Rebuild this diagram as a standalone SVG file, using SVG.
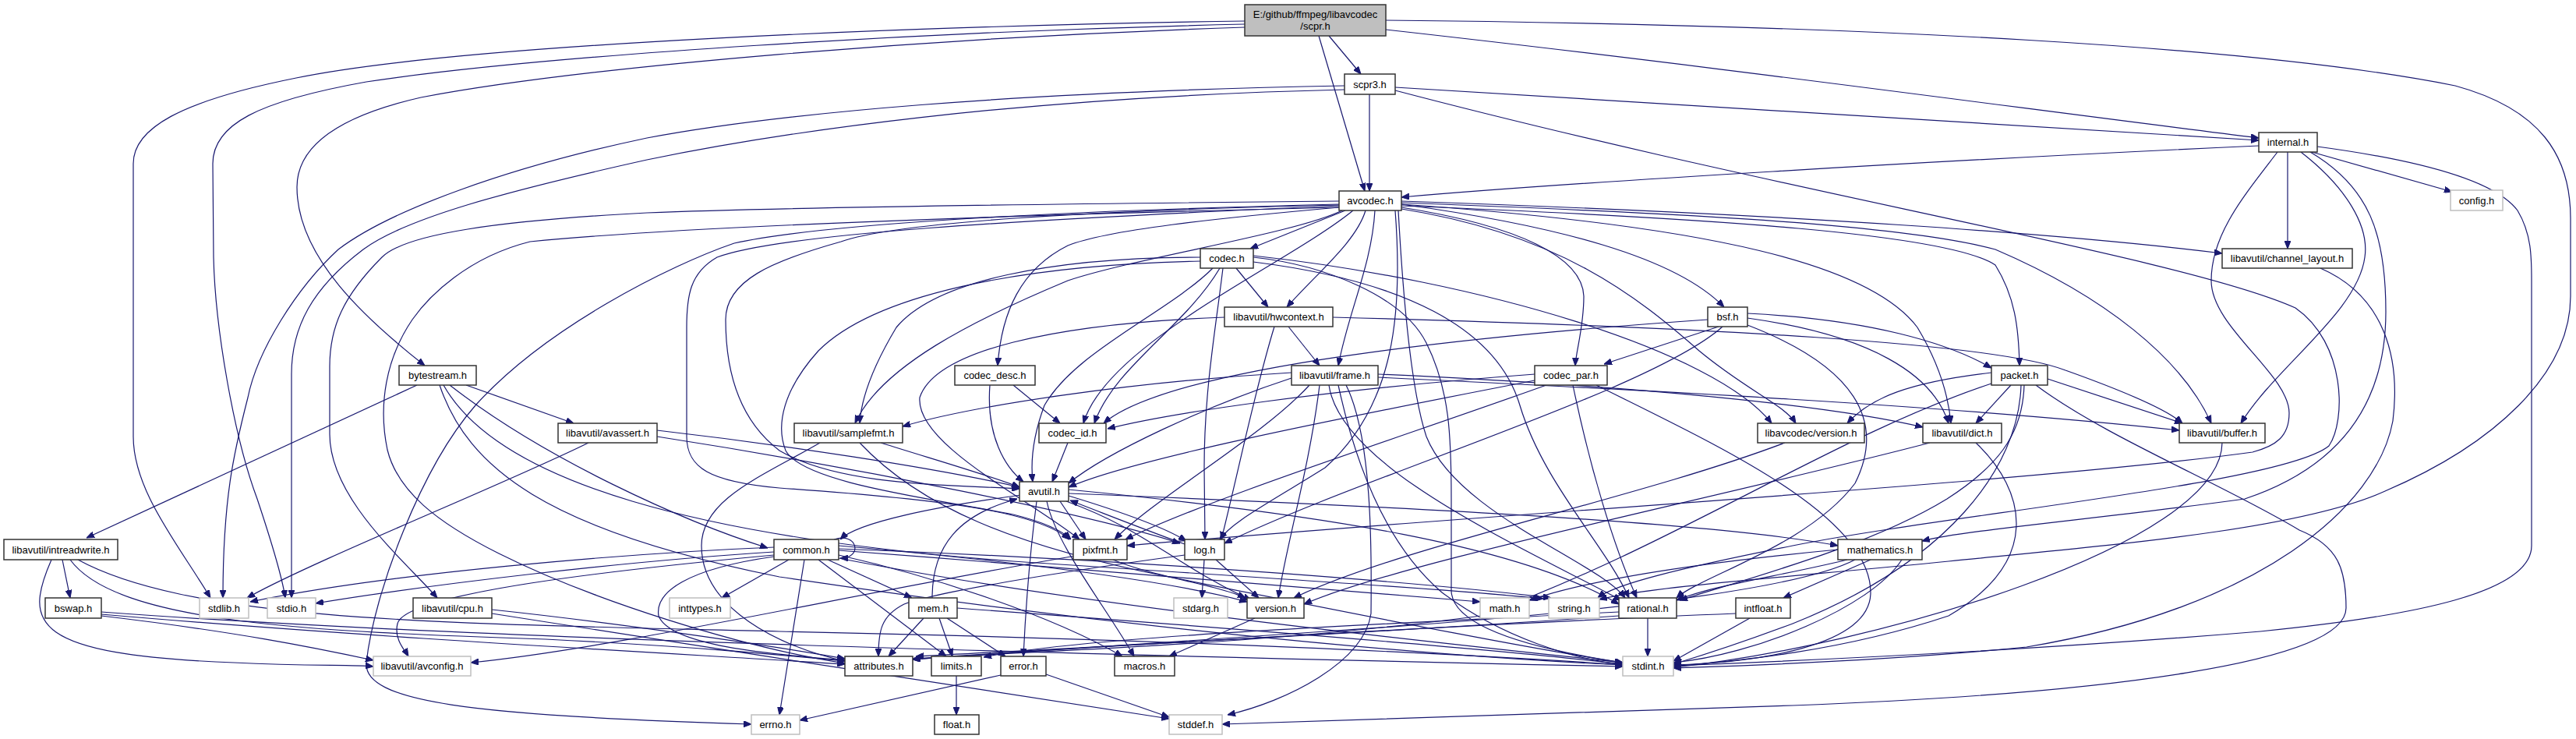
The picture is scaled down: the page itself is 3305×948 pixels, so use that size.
<svg xmlns="http://www.w3.org/2000/svg" width="3305" height="948" viewBox="0 0 3305 948">
<style>
.e{fill:none;stroke:#191970;stroke-width:1.2;marker-end:url(#ah)}
.n rect{fill:#fff;stroke:#333;stroke-width:1.5}
.g rect{fill:#fff;stroke:#bfbfbf;stroke-width:1.5}
text{font-family:"Liberation Sans",Arial,sans-serif;font-size:13px;text-anchor:middle;fill:#000}
</style>
<defs>
<marker id="ah" markerUnits="userSpaceOnUse" markerWidth="10" markerHeight="8" viewBox="0 0 10 8" refX="10" refY="4" orient="auto"><path d="M0,0L10,4L0,8z" fill="#191970" stroke="#191970"/></marker>
</defs>
<rect width="3305" height="948" fill="#fff"/>
<g id="edges">
<path class="e" d="M1597,27 C1200,33 600,55 380,100 C230,130 171,165 171,210 L171,560 C171,630 230,700 270,767"/>
<path class="e" d="M1597,31 C1200,40 700,70 470,105 C330,130 273,160 273,210 L274,330 C276,420 300,560 330,640 C350,700 362,740 366,767"/>
<path class="e" d="M1597,35 C1200,48 750,85 540,125 C430,150 381,190 381,240 C381,330 470,410 545,469"/>
<path class="e" d="M1705,46 L1746,95"/>
<path class="e" d="M1692,46 L1751,245"/>
<path class="e" d="M1778,38 C2200,85 2600,140 2898,177"/>
<path class="e" d="M1778,26 C2400,32 2900,60 3150,110 C3260,140 3298,200 3298,280 L3298,380 C3298,480 3200,570 3060,630 C2950,680 2700,700 2500,720 C2300,740 2120,752 2052,769"/>
<path class="e" d="M1757,121 L1757,245"/>
<path class="e" d="M1790,112 C2200,135 2600,165 2898,180"/>
<path class="e" d="M1725,110 C1300,118 1000,145 830,177 C650,215 500,270 434,320 C380,370 330,450 318,510 C300,580 286,640 286,767"/>
<path class="e" d="M1725,115 C1300,125 1000,170 830,205 C650,245 520,280 466,320 C400,370 374,420 374,480 L374,767"/>
<path class="e" d="M1790,116 C2300,250 2800,330 2945,395 C3010,440 3010,540 2988,572 C2930,620 2500,660 2300,700 C2150,730 2070,750 2050,767"/>
<path class="e" d="M2898,187 C2500,205 2000,235 1798,253"/>
<path class="e" d="M2935,195 L2935,319"/>
<path class="e" d="M2966,195 L3146,246"/>
<path class="e" d="M2952,195 C3010,240 3040,290 3034,330 C3025,400 2920,470 2875,543"/>
<path class="e" d="M2964,195 C3040,240 3061,300 3061,400 C3061,520 3000,600 2880,640 C2700,665 2520,680 2466,694"/>
<path class="e" d="M2922,195 C2880,250 2837,300 2837,360 C2837,420 2937,480 2937,530 C2937,560 2920,572 2890,580 C2600,620 1900,660 1446,700"/>
<path class="e" d="M2973,188 C3100,205 3200,230 3230,270 C3248,300 3248,330 3248,360 L3248,700 C3248,760 3100,790 2900,810 C2600,835 2300,848 2147,854"/>
<path class="e" d="M1718,262 C1300,272 1040,290 942,312 C860,340 700,420 610,520 C540,600 480,760 470,850 C466,900 600,918 964,929"/>
<path class="e" d="M1718,258 C1300,262 1000,266 830,273 C640,283 520,300 490,330 C440,380 423,420 423,470 L423,557 C423,640 520,720 561,767"/>
<path class="e" d="M1718,266 C1300,276 880,290 680,310 C600,330 550,380 529,410 C495,460 485,520 497,577 C510,630 560,670 640,710 C760,770 950,830 1084,851"/>
<path class="e" d="M1722,270 C1660,300 1460,330 1370,360 C1250,410 1130,470 1097,543"/>
<path class="e" d="M1718,263 C1400,270 1150,285 1079,310 C990,335 931,360 931,410 C931,480 950,540 1000,578 C1080,625 1230,622 1308,627"/>
<path class="e" d="M1718,264 C1300,282 1000,300 920,330 C885,350 881,380 881,420 L881,560 C881,600 910,618 1000,626 C1200,640 1330,655 1372,692"/>
<path class="e" d="M1790,270 C1800,400 1790,520 1700,600 C1620,650 1580,670 1565,692"/>
<path class="e" d="M1726,270 L1604,319"/>
<path class="e" d="M1718,266 C1560,280 1420,295 1370,315 C1310,345 1285,400 1280,469"/>
<path class="e" d="M1736,270 C1650,340 1420,440 1390,543"/>
<path class="e" d="M1752,270 C1740,310 1690,350 1651,394"/>
<path class="e" d="M1764,270 C1760,340 1730,400 1717,469"/>
<path class="e" d="M1794,270 C1800,380 1810,500 1830,560 C1870,660 2050,720 2085,767"/>
<path class="e" d="M1798,262 C2000,290 2150,330 2212,394"/>
<path class="e" d="M1798,266 C1950,290 2030,330 2032,380 C2032,420 2022,450 2021,469"/>
<path class="e" d="M1798,264 C2200,280 2500,300 2560,340 C2585,380 2590,420 2591,469"/>
<path class="e" d="M1798,268 C2000,300 2100,380 2180,450 C2240,500 2290,520 2304,543"/>
<path class="e" d="M1798,262 C2200,290 2400,340 2460,420 C2490,470 2500,510 2503,543"/>
<path class="e" d="M1798,260 C2200,275 2450,290 2560,320 C2700,380 2800,460 2837,543"/>
<path class="e" d="M1798,258 C2300,275 2650,300 2851,325"/>
<path class="e" d="M1608,330 C1700,340 1800,380 1830,440 C1860,500 1862,560 1862,640 L1862,757 C1862,800 1950,830 2082,850"/>
<path class="e" d="M1556,344 C1500,400 1380,450 1340,520 C1325,560 1322,590 1325,618"/>
<path class="e" d="M1586,344 L1627,394"/>
<path class="e" d="M1569,344 C1560,420 1545,500 1545,600 L1546,692"/>
<path class="e" d="M1540,335 C1300,340 1120,380 1050,450 C1005,500 995,545 1008,578 C1030,620 1200,640 1300,660 C1340,670 1362,680 1374,692"/>
<path class="e" d="M1608,336 C1800,360 1920,420 1950,520 C1980,620 2060,700 2090,767"/>
<path class="e" d="M1540,330 C1350,330 1200,360 1150,420 C1120,470 1105,510 1103,543"/>
<path class="e" d="M1565,344 C1520,420 1430,470 1404,543"/>
<path class="e" d="M1608,328 C1900,360 2200,450 2273,543"/>
<path class="e" d="M1270,494 C1265,560 1290,600 1313,618"/>
<path class="e" d="M1300,494 L1360,543"/>
<path class="e" d="M1370,568 L1350,618"/>
<path class="e" d="M2048,494 C2200,570 2400,660 2400,760 C2400,830 2250,850 2147,853"/>
<path class="e" d="M2018,494 C2040,600 2070,700 2100,767"/>
<path class="e" d="M1969,488 C1700,540 1450,590 1371,625"/>
<path class="e" d="M1984,494 C1800,560 1550,640 1444,692"/>
<path class="e" d="M1969,480 C1700,500 1500,530 1421,550"/>
<path class="e" d="M2242,408 C2400,430 2480,480 2500,543"/>
<path class="e" d="M2210,419 C2120,500 1750,610 1571,697"/>
<path class="e" d="M2242,417 C2380,470 2420,540 2380,620 C2320,700 2180,740 2151,767"/>
<path class="e" d="M2191,410 C1900,430 1500,470 1416,543"/>
<path class="e" d="M2205,419 L2058,467"/>
<path class="e" d="M2242,402 C2400,410 2500,440 2555,472"/>
<path class="e" d="M2612,494 C2700,560 2850,620 2950,680 C3000,700 3010,730 3010,780 C3010,850 2700,890 2300,905 C2000,915 1700,925 1568,929"/>
<path class="e" d="M2593,494 C2590,600 2500,720 2300,800 C2220,830 2170,845 2147,852"/>
<path class="e" d="M2555,492 C2350,560 2150,700 1900,790 C1600,830 1300,835 1171,846"/>
<path class="e" d="M2627,486 C2700,510 2760,530 2800,543"/>
<path class="e" d="M2580,494 L2535,543"/>
<path class="e" d="M2597,494 C2595,560 2560,600 2498,640 C2400,700 2250,740 2155,770"/>
<path class="e" d="M2555,478 C2450,490 2400,510 2370,543"/>
<path class="e" d="M2290,568 C2100,640 1800,700 1660,767"/>
<path class="e" d="M1710,407 C2200,420 2560,440 2650,475 C2720,500 2780,525 2800,543"/>
<path class="e" d="M1653,419 L1693,469"/>
<path class="e" d="M1635,419 C1610,500 1590,600 1567,692"/>
<path class="e" d="M1571,407 C1350,415 1200,450 1180,510 C1175,570 1320,640 1385,692"/>
<path class="e" d="M1727,494 C1760,560 1760,700 1759,787 C1750,850 1650,900 1575,917"/>
<path class="e" d="M1717,494 C1740,600 1780,700 1850,760 C1930,820 2020,845 2082,853"/>
<path class="e" d="M1657,485 C1550,520 1420,580 1371,620"/>
<path class="e" d="M1768,484 C2100,500 2500,520 2796,552"/>
<path class="e" d="M1768,480 C2100,495 2350,520 2467,548"/>
<path class="e" d="M1705,494 C1720,600 1950,700 2080,770"/>
<path class="e" d="M1657,478 C1450,490 1250,520 1158,547"/>
<path class="e" d="M1680,494 C1620,560 1480,640 1430,692"/>
<path class="e" d="M1693,494 C1680,600 1650,700 1640,767"/>
<path class="e" d="M1130,568 C1200,590 1270,610 1308,625"/>
<path class="e" d="M1052,568 C980,610 900,640 900,700 C900,780 1000,830 1084,848"/>
<path class="e" d="M1103,568 C1180,650 1300,700 1500,740 C1800,800 1980,835 2082,850"/>
<path class="e" d="M2535,568 C2600,630 2620,720 2500,790 C2350,840 2200,850 2147,855"/>
<path class="e" d="M2476,568 C2200,640 1800,720 1673,775"/>
<path class="e" d="M2851,568 C2850,700 2400,830 2147,856"/>
<path class="e" d="M2977,344 C3060,380 3080,460 3070,540 C3050,650 2900,780 2600,830 C2400,850 2200,855 2147,857"/>
<path class="e" d="M1310,635 C1200,650 1100,670 1078,692"/>
<path class="e" d="M1330,643 C1320,720 1315,800 1313,842"/>
<path class="e" d="M1371,628 C1700,660 1950,700 2077,775"/>
<path class="e" d="M1368,643 C1470,680 1500,720 1605,770"/>
<path class="e" d="M1343,643 C1355,700 1420,780 1455,842"/>
<path class="e" d="M1371,633 C1800,650 2200,670 2358,700"/>
<path class="e" d="M1371,636 C1450,660 1500,680 1522,694"/>
<path class="e" d="M1360,643 L1393,692"/>
<path class="e" d="M1032,718 L1000,917"/>
<path class="e" d="M1012,718 L926,767"/>
<path class="e" d="M1050,718 L1214,842"/>
<path class="e" d="M1062,718 L1170,767"/>
<path class="e" d="M993,702 C800,710 500,735 321,772"/>
<path class="e" d="M993,708 C800,720 550,750 405,774"/>
<path class="e" d="M993,712 C800,730 520,760 510,800 C505,820 520,835 524,842"/>
<path class="e" d="M993,714 C880,730 840,760 845,790 C860,830 1000,840 1084,847"/>
<path class="e" d="M1076,712 C1200,740 1350,790 1440,842"/>
<path class="e" d="M1076,700 C1300,720 1500,745 1600,772"/>
<path class="e" d="M1076,706 C1400,730 1750,760 1899,772"/>
<path class="e" d="M1076,704 C1500,720 1850,750 1990,767"/>
<path class="e" d="M1076,716 C1400,780 1900,830 2082,850"/>
<path class="e" d="M1070,692 C1100,682 1108,716 1078,716"/>
<path class="e" d="M1205,793 L1222,842"/>
<path class="e" d="M1228,780 C1500,800 1900,830 2082,852"/>
<path class="e" d="M1185,793 L1140,842"/>
<path class="e" d="M1215,793 L1290,842"/>
<path class="e" d="M1196,767 C1196,700 1230,660 1305,640"/>
<path class="e" d="M1284,866 L1026,924"/>
<path class="e" d="M1342,865 L1500,920"/>
<path class="e" d="M1227,867 L1227,917"/>
<path class="e" d="M1545,718 L1542,767"/>
<path class="e" d="M1520,698 C1470,680 1420,660 1373,642"/>
<path class="e" d="M1520,712 C1350,735 1200,760 1160,775 C1130,790 1127,810 1127,842"/>
<path class="e" d="M1560,718 L1615,767"/>
<path class="e" d="M1380,713 C1100,760 800,830 604,850"/>
<path class="e" d="M1428,718 C1480,740 1560,750 1598,767"/>
<path class="e" d="M1610,793 L1500,842"/>
<path class="e" d="M2114,793 L2114,842"/>
<path class="e" d="M2077,785 C1800,800 1400,815 1262,843"/>
<path class="e" d="M2077,790 C1800,810 1400,830 1175,842"/>
<path class="e" d="M2440,718 C2400,780 2250,840 2147,850"/>
<path class="e" d="M2358,705 C2200,720 2050,740 1962,770"/>
<path class="e" d="M2380,718 C2300,760 2000,790 1700,810 C1400,830 1250,840 1171,846"/>
<path class="e" d="M2370,718 C2280,740 2200,750 2151,770"/>
<path class="e" d="M2400,718 L2288,767"/>
<path class="e" d="M2245,793 L2147,848"/>
<path class="e" d="M2227,787 C1900,800 1400,830 1171,845"/>
<path class="e" d="M631,787 C900,830 1300,890 1500,922"/>
<path class="e" d="M631,782 C800,800 1000,830 1084,845"/>
<path class="e" d="M755,568 C650,620 400,720 317,767"/>
<path class="e" d="M843,552 C1000,570 1200,600 1308,625"/>
<path class="e" d="M843,560 C1100,600 1400,660 1514,697"/>
<path class="e" d="M535,494 L111,690"/>
<path class="e" d="M598,494 L736,543"/>
<path class="e" d="M577,494 C700,590 880,670 985,703"/>
<path class="e" d="M569,494 C640,620 900,690 1300,720 C1600,740 1850,755 1980,768"/>
<path class="e" d="M564,494 C600,600 700,680 1000,740 C1400,800 1800,840 2082,853"/>
<path class="e" d="M80,718 L90,767"/>
<path class="e" d="M66,718 C30,800 40,840 300,850 C400,855 450,852 479,855"/>
<path class="e" d="M90,718 C150,800 400,810 700,820 C900,830 1000,840 1084,848"/>
<path class="e" d="M100,718 C250,800 600,800 1000,810 C1500,820 1900,840 2082,853"/>
<path class="e" d="M130,785 C600,820 1400,840 2082,855"/>
<path class="e" d="M130,790 C300,810 400,830 479,847"/>
<path class="e" d="M130,788 C500,820 900,840 1084,852"/>
</g>
<g id="n_root"><rect x="1597" y="6" width="181" height="40" style="fill:#bfbfbf;stroke:#333;stroke-width:1.5"/><text x="1687.5" y="23">E:/github/ffmpeg/libavcodec</text><text x="1687.5" y="38">/scpr.h</text></g>
<g id="n_scpr3" class="n"><rect x="1725" y="95" width="65" height="26"/><text x="1757.5" y="112.5">scpr3.h</text></g>
<g id="n_internal" class="n"><rect x="2898" y="170" width="75" height="25"/><text x="2935.5" y="187">internal.h</text></g>
<g id="n_avcodec" class="n"><rect x="1718" y="245" width="80" height="25"/><text x="1758" y="262">avcodec.h</text></g>
<g id="n_config" class="g"><rect x="3144" y="244" width="67" height="26"/><text x="3177.5" y="261.5">config.h</text></g>
<g id="n_codec" class="n"><rect x="1540" y="319" width="68" height="25"/><text x="1574" y="336">codec.h</text></g>
<g id="n_channel_layout" class="n"><rect x="2851" y="319" width="167" height="25"/><text x="2934.5" y="336">libavutil/channel_layout.h</text></g>
<g id="n_hwcontext" class="n"><rect x="1571" y="394" width="139" height="25"/><text x="1640.5" y="411">libavutil/hwcontext.h</text></g>
<g id="n_bsf" class="n"><rect x="2191" y="394" width="51" height="25"/><text x="2216.5" y="411">bsf.h</text></g>
<g id="n_bytestream" class="n"><rect x="512" y="469" width="99" height="25"/><text x="561.5" y="486">bytestream.h</text></g>
<g id="n_codec_desc" class="n"><rect x="1225" y="469" width="103" height="25"/><text x="1276.5" y="486">codec_desc.h</text></g>
<g id="n_frame" class="n"><rect x="1657" y="469" width="111" height="25"/><text x="1712.5" y="486">libavutil/frame.h</text></g>
<g id="n_codec_par" class="n"><rect x="1969" y="469" width="93" height="25"/><text x="2015.5" y="486">codec_par.h</text></g>
<g id="n_packet" class="n"><rect x="2555" y="469" width="72" height="25"/><text x="2591" y="486">packet.h</text></g>
<g id="n_avassert" class="n"><rect x="716" y="543" width="127" height="25"/><text x="779.5" y="560">libavutil/avassert.h</text></g>
<g id="n_samplefmt" class="n"><rect x="1019" y="543" width="139" height="25"/><text x="1088.5" y="560">libavutil/samplefmt.h</text></g>
<g id="n_codec_id" class="n"><rect x="1333" y="543" width="86" height="25"/><text x="1376" y="560">codec_id.h</text></g>
<g id="n_lavc_version" class="n"><rect x="2255" y="543" width="137" height="25"/><text x="2323.5" y="560">libavcodec/version.h</text></g>
<g id="n_dict" class="n"><rect x="2467" y="543" width="101" height="25"/><text x="2517.5" y="560">libavutil/dict.h</text></g>
<g id="n_buffer" class="n"><rect x="2796" y="543" width="110" height="25"/><text x="2851" y="560">libavutil/buffer.h</text></g>
<g id="n_avutil" class="n"><rect x="1308" y="618" width="63" height="25"/><text x="1339.5" y="635">avutil.h</text></g>
<g id="n_intreadwrite" class="n"><rect x="5" y="692" width="146" height="26"/><text x="78" y="709.5">libavutil/intreadwrite.h</text></g>
<g id="n_common" class="n"><rect x="993" y="692" width="83" height="26"/><text x="1034.5" y="709.5">common.h</text></g>
<g id="n_pixfmt" class="n"><rect x="1377" y="692" width="69" height="26"/><text x="1411.5" y="709.5">pixfmt.h</text></g>
<g id="n_log" class="n"><rect x="1520" y="692" width="51" height="26"/><text x="1545.5" y="709.5">log.h</text></g>
<g id="n_mathematics" class="n"><rect x="2358" y="692" width="108" height="26"/><text x="2412" y="709.5">mathematics.h</text></g>
<g id="n_bswap" class="n"><rect x="58" y="767" width="72" height="26"/><text x="94" y="784.5">bswap.h</text></g>
<g id="n_stdlib" class="g"><rect x="256" y="767" width="63" height="26"/><text x="287.5" y="784.5">stdlib.h</text></g>
<g id="n_stdio" class="g"><rect x="343" y="767" width="62" height="26"/><text x="374" y="784.5">stdio.h</text></g>
<g id="n_cpu" class="n"><rect x="530" y="767" width="101" height="26"/><text x="580.5" y="784.5">libavutil/cpu.h</text></g>
<g id="n_inttypes" class="g"><rect x="859" y="767" width="78" height="26"/><text x="898" y="784.5">inttypes.h</text></g>
<g id="n_mem" class="n"><rect x="1166" y="767" width="62" height="26"/><text x="1197" y="784.5">mem.h</text></g>
<g id="n_stdarg" class="g"><rect x="1506" y="767" width="69" height="26"/><text x="1540.5" y="784.5">stdarg.h</text></g>
<g id="n_version" class="n"><rect x="1600" y="767" width="73" height="26"/><text x="1636.5" y="784.5">version.h</text></g>
<g id="n_math" class="g"><rect x="1899" y="767" width="63" height="26"/><text x="1930.5" y="784.5">math.h</text></g>
<g id="n_string" class="g"><rect x="1987" y="767" width="65" height="26"/><text x="2019.5" y="784.5">string.h</text></g>
<g id="n_rational" class="n"><rect x="2077" y="767" width="74" height="26"/><text x="2114" y="784.5">rational.h</text></g>
<g id="n_intfloat" class="n"><rect x="2227" y="767" width="70" height="26"/><text x="2262" y="784.5">intfloat.h</text></g>
<g id="n_avconfig" class="g"><rect x="479" y="842" width="125" height="25"/><text x="541.5" y="859">libavutil/avconfig.h</text></g>
<g id="n_attributes" class="n"><rect x="1084" y="842" width="87" height="25"/><text x="1127.5" y="859">attributes.h</text></g>
<g id="n_limits" class="n"><rect x="1195" y="842" width="64" height="25"/><text x="1227" y="859">limits.h</text></g>
<g id="n_error" class="n"><rect x="1284" y="842" width="58" height="25"/><text x="1313" y="859">error.h</text></g>
<g id="n_macros" class="n"><rect x="1430" y="842" width="77" height="25"/><text x="1468.5" y="859">macros.h</text></g>
<g id="n_stdint" class="g"><rect x="2082" y="842" width="65" height="25"/><text x="2114.5" y="859">stdint.h</text></g>
<g id="n_errno" class="g"><rect x="964" y="917" width="62" height="25"/><text x="995" y="934">errno.h</text></g>
<g id="n_float" class="n"><rect x="1199" y="917" width="57" height="25"/><text x="1227.5" y="934">float.h</text></g>
<g id="n_stddef" class="g"><rect x="1500" y="917" width="68" height="25"/><text x="1534" y="934">stddef.h</text></g>
</svg>
